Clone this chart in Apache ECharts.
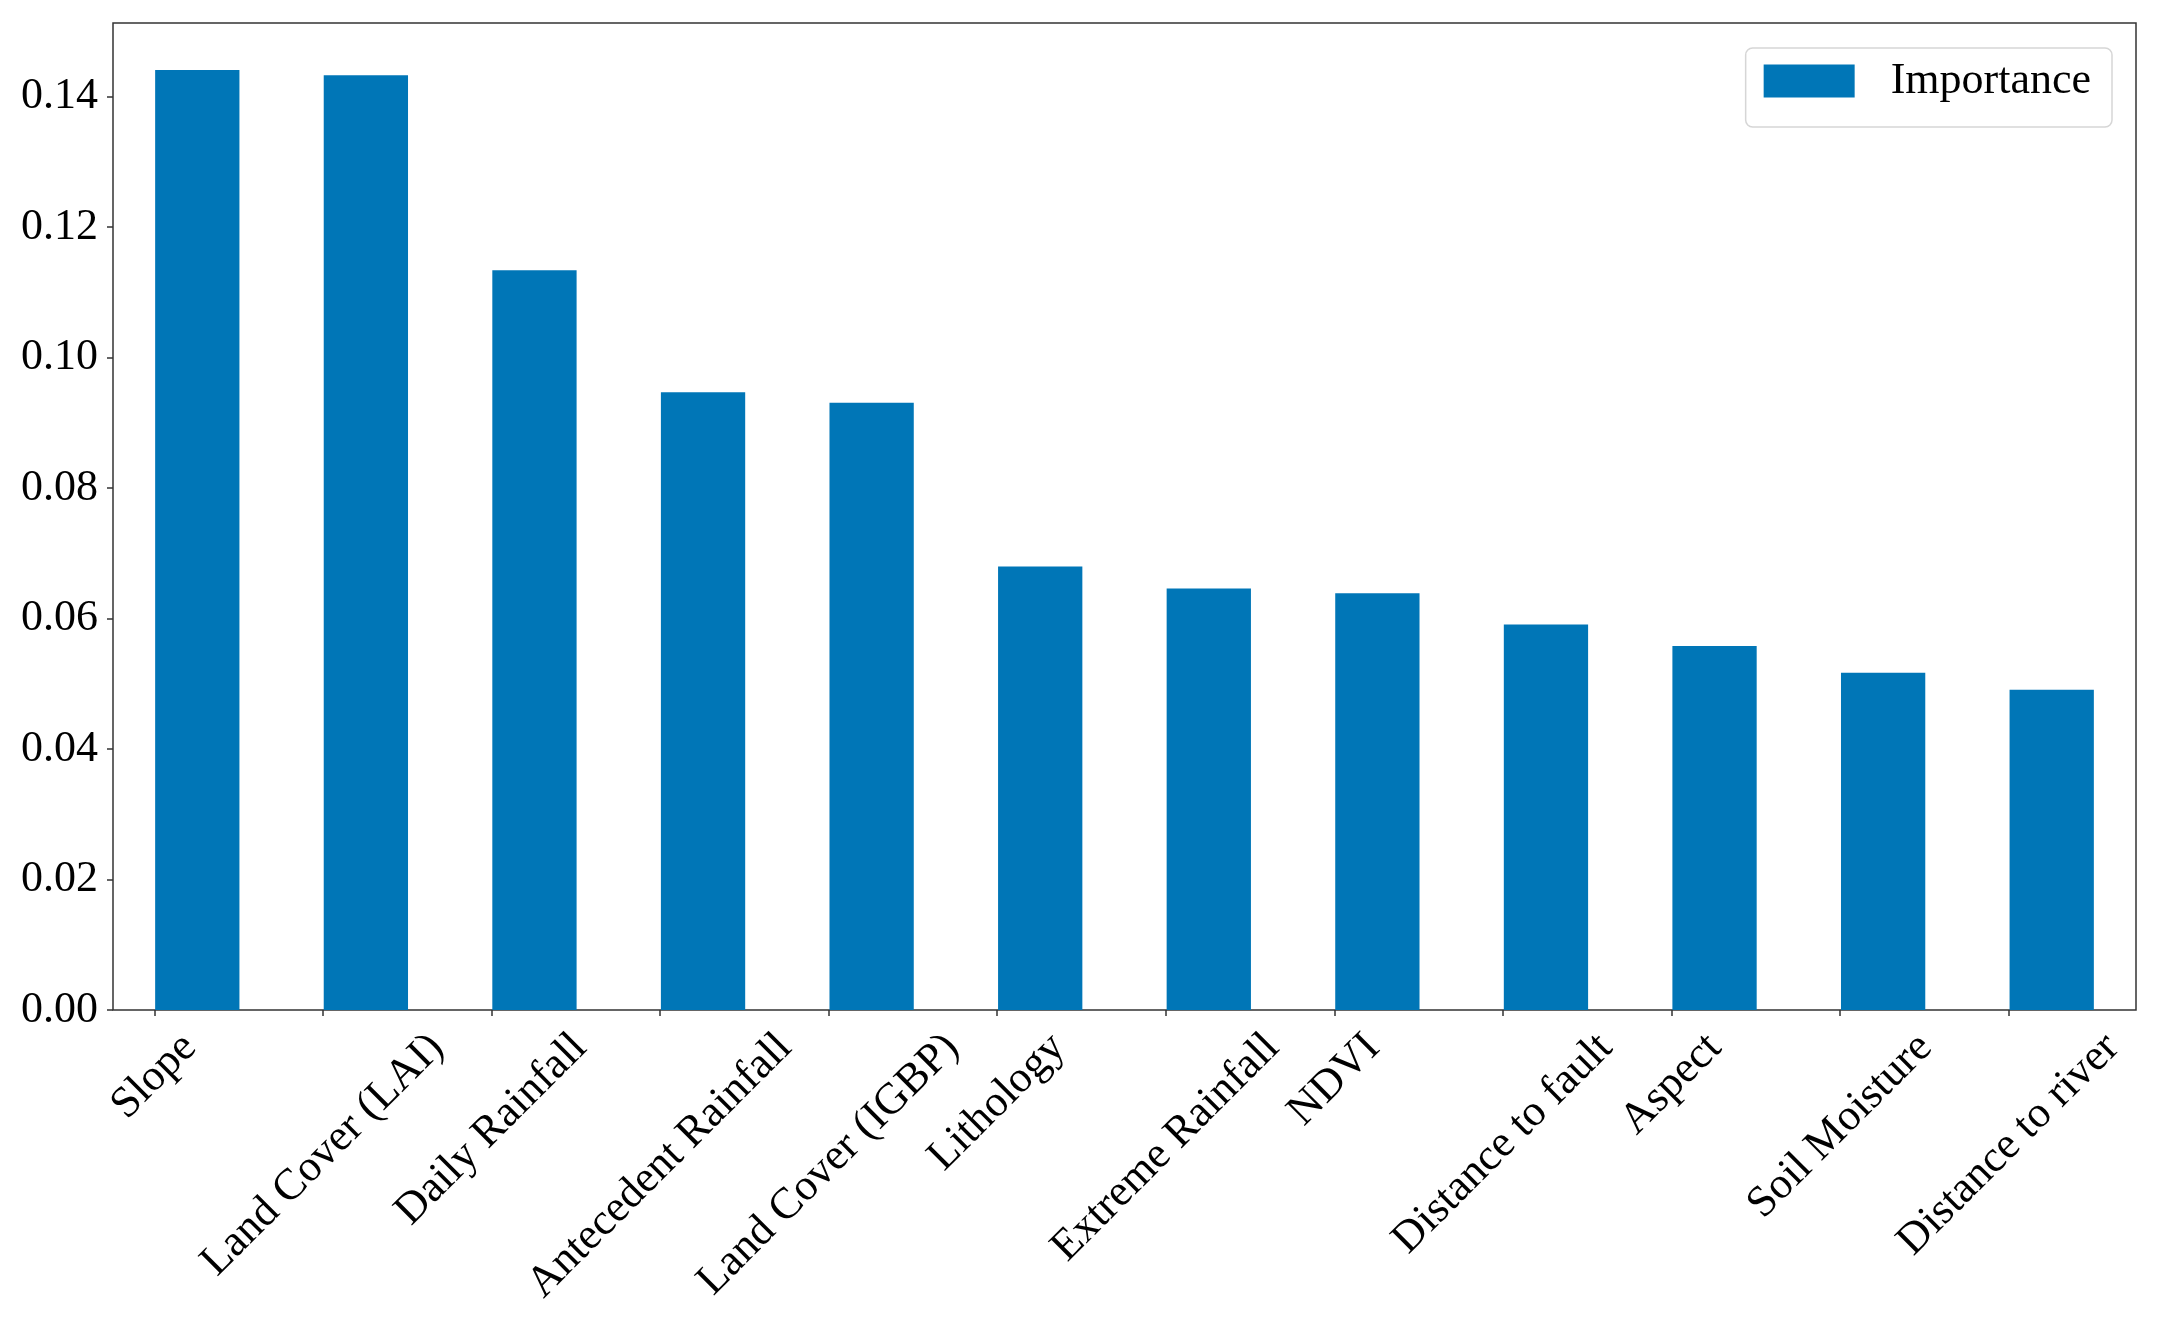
<!DOCTYPE html>
<html>
<head>
<meta charset="utf-8">
<script src="https://cdn.jsdelivr.net/npm/echarts@6/dist/echarts.min.js"></script>
<style>
html,body{margin:0;padding:0;background:#ffffff;}
#chart{width:2161px;height:1324px;}
</style>
</head>
<body>
<div id="chart"></div>
<script>
// ---- data ----
const categories = [
  'Slope', 'Land Cover (LAI)', 'Daily Rainfall', 'Antecedent Rainfall',
  'Land Cover (IGBP)', 'Lithology', 'Extreme Rainfall', 'NDVI',
  'Distance to fault', 'Aspect', 'Soil Moisture', 'Distance to river'
];
const importance = [
  0.1441, 0.1433, 0.1134, 0.0947,
  0.0931, 0.0680, 0.0646, 0.0639,
  0.0591, 0.0558, 0.0517, 0.0491
];
const yTicks = [0.00, 0.02, 0.04, 0.06, 0.08, 0.10, 0.12, 0.14];
const seriesName = 'Importance';
const yMax = 0.1513;

// ---- layout / style ----
const W = 2161, H = 1324;
const FONT = '"Times New Roman", "Liberation Serif", serif';
const FS = 44;
const gridLeft = 113, gridRight = 25, gridTop = 23, gridBottom = 314;
const band = (W - gridLeft - gridRight) / categories.length;
const tickOffset = 0.245 * band;
const AXIS_COLOR = '#333333';
const BAR_COLOR = '#0076B7';

// measure label lengths so rotated labels are centred on their ticks
const ctx = document.createElement('canvas').getContext('2d');
ctx.font = FS + 'px ' + FONT;
const labelItems = categories.map(function (c) {
  const L = ctx.measureText(c).width;
  const s = L / 2 + FS;
  return {
    value: c,
    textStyle: {
      align: 'center', verticalAlign: 'top',
      lineHeight: s,
      padding: [0, s, 0, 0]
    }
  };
});

const chart = echarts.init(document.getElementById('chart'), null, { renderer: 'canvas' });
chart.setOption({
  animation: false,
  backgroundColor: '#ffffff',
  legend: {
    data: [seriesName],
    right: 49,
    top: 48,
    orient: 'horizontal',
    selectedMode: false,
    icon: 'rect',
    itemWidth: 91,
    itemHeight: 33,
    padding: [11, 21, 24, 18],
    borderColor: '#d6d6d6',
    borderWidth: 1.5,
    borderRadius: 7,
    backgroundColor: '#ffffff',
    textStyle: {
      fontFamily: FONT, fontSize: FS, color: '#000000',
      lineHeight: 44, padding: [0, 0, 0, 31]
    }
  },
  grid: [
    {
      left: gridLeft, right: gridRight, top: gridTop, bottom: gridBottom,
      show: true, borderColor: AXIS_COLOR, borderWidth: 1.5,
      outerBoundsMode: 'none'
    },
    {
      left: gridLeft + tickOffset,
      width: band * (categories.length - 1),
      top: gridTop, bottom: gridBottom,
      show: false,
      outerBoundsMode: 'none'
    }
  ],
  xAxis: [
    {
      type: 'category', gridIndex: 0, data: categories,
      boundaryGap: true,
      axisLine: { show: false },
      axisTick: { show: false },
      axisLabel: { show: false },
      splitLine: { show: false }
    },
    {
      type: 'category', gridIndex: 1, data: labelItems,
      boundaryGap: false,
      axisLine: { show: false },
      axisTick: { show: true, length: 6, lineStyle: { color: AXIS_COLOR, width: 1.5 } },
      axisLabel: {
        show: true, interval: 0, rotate: 45,
        margin: 0,
        fontFamily: FONT, fontSize: FS, color: '#000000',
        hideOverlap: false
      },
      splitLine: { show: false }
    }
  ],
  yAxis: [
    {
      type: 'value', gridIndex: 0, min: 0, max: yMax,
      axisLine: { show: false },
      axisTick: {
        show: true, length: 6, customValues: yTicks,
        lineStyle: { color: AXIS_COLOR, width: 1.5 }
      },
      axisLabel: {
        customValues: yTicks,
        formatter: function (v) { return v.toFixed(2); },
        margin: 15,
        fontFamily: FONT, fontSize: FS, color: '#000000'
      },
      splitLine: { show: false }
    },
    { type: 'value', gridIndex: 1, min: 0, max: 1, show: false }
  ],
  series: [
    {
      name: seriesName,
      type: 'bar',
      xAxisIndex: 0, yAxisIndex: 0,
      data: importance,
      barWidth: '50%',
      itemStyle: { color: BAR_COLOR }
    }
  ]
});
</script>
</body>
</html>
